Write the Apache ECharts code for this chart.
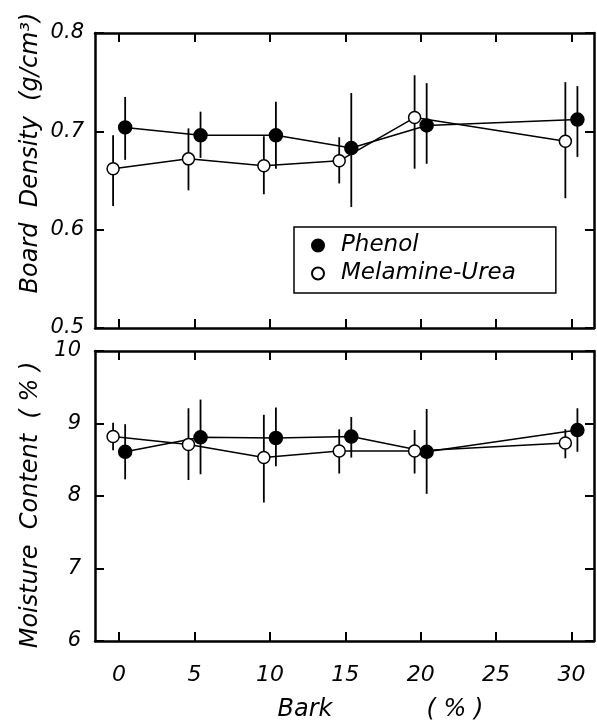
<!DOCTYPE html>
<html><head><meta charset="utf-8">
<script src="https://cdn.jsdelivr.net/npm/echarts@6/dist/echarts.min.js"></script>
<style>html,body{margin:0;padding:0;background:#fff}#c{width:597px;height:722px}</style>
</head><body><div id="c"></div>
<script>
// Data (x positions are slightly offset in the original to separate the two series)
const barkTicks = [0, 5, 10, 15, 20, 25, 30];
const phenolX = [0.4, 5.4, 10.4, 15.4, 20.4, 30.4];
const muX = [-0.4, 4.6, 9.6, 14.6, 19.6, 29.6];

const densPhenol = [0.704, 0.696, 0.696, 0.683, 0.706, 0.712];
const densPhenolLow = [0.671, 0.673, 0.662, 0.623, 0.667, 0.674];
const densPhenolHigh = [0.735, 0.720, 0.730, 0.739, 0.749, 0.746];
const densMU = [0.662, 0.672, 0.665, 0.670, 0.714, 0.690];
const densMULow = [0.624, 0.640, 0.636, 0.647, 0.662, 0.632];
const densMUHigh = [0.696, 0.703, 0.695, 0.694, 0.757, 0.750];

const moistPhenol = [8.61, 8.81, 8.80, 8.82, 8.61, 8.91];
const moistPhenolLow = [8.23, 8.30, 8.41, 8.53, 8.03, 8.61];
const moistPhenolHigh = [8.99, 9.33, 9.22, 9.09, 9.20, 9.21];
const moistMU = [8.82, 8.71, 8.53, 8.62, 8.62, 8.73];
const moistMULow = [8.63, 8.22, 7.91, 8.31, 8.31, 8.52];
const moistMUHigh = [9.01, 9.21, 9.12, 8.92, 8.91, 8.92];

const FONT = 'DejaVu Sans';
const chart = echarts.init(document.getElementById('c'), null, {renderer: 'canvas'});

function pts(xs, ys) { return xs.map((x, i) => [x, ys[i]]); }
function errData(xs, lo, hi) { return xs.map((x, i) => [x, lo[i], hi[i]]); }

function errSeries(xi, yi, data) {
  return {
    type: 'custom', xAxisIndex: xi, yAxisIndex: yi, z: 1, silent: true,
    data: data,
    encode: {x: 0, y: [1, 2]},
    renderItem: function (params, api) {
      const x = api.value(0);
      const p1 = api.coord([x, api.value(1)]);
      const p2 = api.coord([x, api.value(2)]);
      return {type: 'line', shape: {x1: p1[0], y1: p1[1], x2: p2[0], y2: p2[1]},
        style: {stroke: '#000', lineWidth: 1.8}};
    }
  };
}

function lineSeries(name, xi, yi, data, filled) {
  return {
    name: name, type: 'line', xAxisIndex: xi, yAxisIndex: yi, z: 3,
    data: data, symbol: 'circle', symbolSize: filled ? 13 : 12,
    showSymbol: true, animation: false,
    lineStyle: {color: '#000', width: 1.5},
    itemStyle: {color: filled ? '#000' : '#fff', borderColor: '#000', borderWidth: 1.5, opacity: 1}
  };
}

const axisLineStyle = {show: true, onZero: false, lineStyle: {color: '#000', width: 2.5}};
const tickStyle = {color: '#000', width: 2};

const xBase = {
  type: 'value', min: -1.6, max: 31.5,
  splitLine: {show: false},
  axisLine: axisLineStyle,
  axisTick: {show: true, inside: true, length: 9, customValues: barkTicks, lineStyle: tickStyle},
  axisLabel: {show: false}
};
function yAx(grid, min, max, interval, pos, label) {
  return {
    gridIndex: grid, type: 'value', min: min, max: max, interval: interval, position: pos,
    splitLine: {show: false},
    axisLine: axisLineStyle,
    axisTick: {show: true, inside: true, length: 9, lineStyle: tickStyle},
    axisLabel: label ? Object.assign({show: true, color: '#000', fontFamily: FONT, fontStyle: 'italic', fontSize: 21}, label)
                     : {show: false}
  };
}

const option = {
  animation: false,
  backgroundColor: '#fff',
  grid: [
    {left: 95, top: 33, width: 499, height: 295, show: false},
    {left: 95, top: 351, width: 499, height: 290, show: false}
  ],
  xAxis: [
    Object.assign({}, xBase, {gridIndex: 0, position: 'bottom'}),
    Object.assign({}, xBase, {gridIndex: 0, position: 'top'}),
    Object.assign({}, xBase, {gridIndex: 1, position: 'bottom',
      axisLabel: {show: true, customValues: barkTicks, margin: 23, color: '#000',
        fontFamily: FONT, fontStyle: 'italic', fontSize: 22}}),
    Object.assign({}, xBase, {gridIndex: 1, position: 'top'})
  ],
  yAxis: [
    yAx(0, 0.5, 0.8, 0.1, 'left', {margin: 11, formatter: v => v.toFixed(1)}),
    yAx(0, 0.5, 0.8, 0.1, 'right', null),
    yAx(1, 6, 10, 1, 'left', {margin: 14}),
    yAx(1, 6, 10, 1, 'right', null)
  ],
  legend: {
    show: true, orient: 'vertical', left: 294, top: 227,
    data: [{name: 'Phenol', icon: 'circle'}, {name: 'Melamine-Urea', icon: 'circle'}],
    itemWidth: 12, itemHeight: 12, itemGap: 5,
    padding: [7, 40, 8, 17],
    borderColor: '#000', borderWidth: 1.5, backgroundColor: '#fff',
    textStyle: {color: '#000', fontFamily: FONT, fontStyle: 'italic', fontSize: 23, padding: [0, 0, 0, 12]}
  },
  graphic: [
    {type: 'text', rotation: Math.PI / 2, x: 31, y: 153,
      style: {text: 'Board  Density  (g/cm³)', font: 'italic 24px "DejaVu Sans"', fill: '#000',
        textAlign: 'center', textVerticalAlign: 'middle'}},
    {type: 'text', rotation: Math.PI / 2, x: 31, y: 505,
      style: {text: 'Moisture  Content  ( % )', font: 'italic 24px "DejaVu Sans"', fill: '#000',
        textAlign: 'center', textVerticalAlign: 'middle'}},
    {type: 'text', x: 305, y: 710,
      style: {text: 'Bark', font: 'italic 24px "DejaVu Sans"', fill: '#000',
        textAlign: 'center', textVerticalAlign: 'middle'}},
    {type: 'text', x: 455, y: 710,
      style: {text: '( % )', font: 'italic 24px "DejaVu Sans"', fill: '#000',
        textAlign: 'center', textVerticalAlign: 'middle'}}
  ],
  series: [
    errSeries(0, 0, errData(phenolX, densPhenolLow, densPhenolHigh)),
    errSeries(0, 0, errData(muX, densMULow, densMUHigh)),
    errSeries(2, 2, errData(phenolX, moistPhenolLow, moistPhenolHigh)),
    errSeries(2, 2, errData(muX, moistMULow, moistMUHigh)),
    lineSeries('Phenol', 0, 0, pts(phenolX, densPhenol), true),
    lineSeries('Melamine-Urea', 0, 0, pts(muX, densMU), false),
    lineSeries('Phenol', 2, 2, pts(phenolX, moistPhenol), true),
    lineSeries('Melamine-Urea', 2, 2, pts(muX, moistMU), false)
  ]
};
chart.setOption(option);
</script></body></html>
